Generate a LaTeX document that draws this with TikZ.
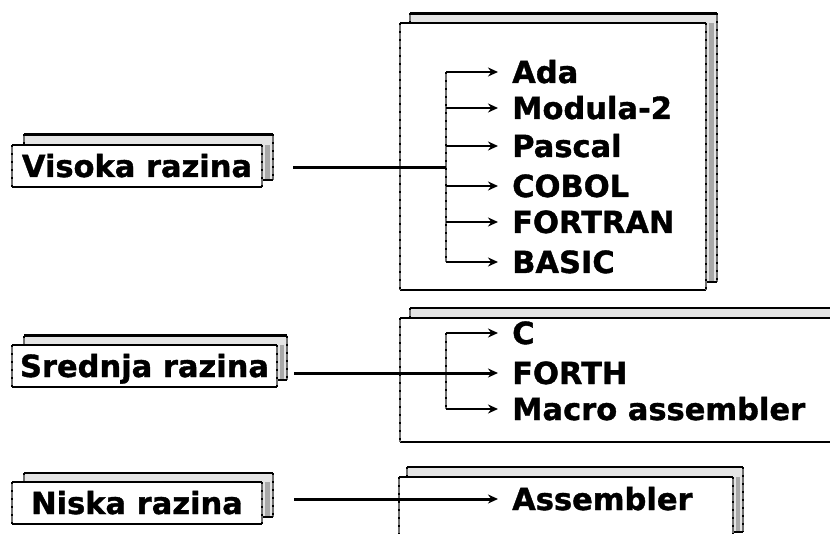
\documentclass[tikz,border=0pt]{standalone}
\usepackage{fontspec}
\setmainfont{DejaVu Sans}[BoldFeatures={FakeBold=1.2}]
\usetikzlibrary{arrows.meta}
\definecolor{bandgray}{HTML}{E4E4E4}
\definecolor{stripgray}{HTML}{A8A8A8}
\definecolor{edgegray}{HTML}{707070}
\tikzset{
  lbl/.style={font=\fontsize{30.5bp}{34bp}\selectfont\bfseries, inner sep=0pt, text height=22bp, text depth=0pt},
  item/.style={lbl, anchor=west},
  conn/.style={line width=3bp},
  tip/.style={-{Stealth[length=10bp,width=9bp]}},
  branch/.style={line width=2bp, shorten >=14bp, tip},
  edgedash/.style={draw=edgegray, line width=2.4bp,
    postaction={draw=black, line width=1.4bp, dash pattern=on 2bp off 6bp}},
  rim/.style={draw=black, line width=2.4bp},
}
% front: #1 left #2 top #3 right #4 bottom ; back: #5 left #6 top #7 right #8 bottom
\newcommand\stackedsheet[8]{%
  \fill[bandgray] (#5,#6) rectangle (#7,#8);
  \fill[stripgray] (#3+3,#2) rectangle (#7-3,#8);
  \draw[edgedash] (#7,#6) -- (#7,#8);
  \draw[rim] (#3,#8) -- (#7,#8);
  \draw[edgedash] (#5,#6) -- (#5,#2);
  \draw[rim] (#5,#6) -- (#7,#6);
  \fill[white] (#1,#2) rectangle (#3,#4);
  \draw[rim] (#1,#2) -- (#3,#2);
  \draw[rim] (#1,#4) -- (#3,#4);
  \draw[edgedash] (#1,#2) -- (#1,#4);
  \draw[edgedash] (#3,#2) -- (#3,#4);
}
\begin{document}
\begin{tikzpicture}[x=1bp,y=-1bp]
\useasboundingbox (0,0) rectangle (830,534);
\clip (0,0) rectangle (830,534);
\fill[white] (0,0) rectangle (830,534);

% sheets
\stackedsheet{400}{23}{706}{290}{410}{13.5}{717}{282}
\stackedsheet{400}{318}{850}{442}{410}{308}{860}{435}
\stackedsheet{399}{477}{733}{560}{407}{467}{743}{532}
\stackedsheet{12}{145}{262}{187}{24}{134.5}{273}{180}
\stackedsheet{12}{345}{277}{387}{24}{335.5}{287}{380}
\stackedsheet{12}{482}{262}{524}{24}{473}{273}{517}

% level labels
\node[lbl] (vis) at (137,166) {Visoka razina};
\node[lbl] (sre) at (144.5,366) {Srednja razina};
\node[lbl] (nis) at (137,503) {Niska razina};

% language items
\node[item] (ada) at (512,72) {Ada};
\node[item] (mod) at (512,108) {Modula-2};
\node[item] (pas) at (512,146) {Pascal};
\node[item] (cob) at (512,186) {COBOL};
\node[item] (for) at (512,222) {FORTRAN};
\node[item] (bas) at (512,262) {BASIC};
\node[item] (c) at (512,333) {C};
\node[item] (forth) at (512,373) {FORTH};
\node[item] (mac) at (512,409) {Macro assembler};
\node[item] (asm) at (512,499) {Assembler};

% connector points
\coordinate (v0) at (293,168);
\coordinate (s0) at (294,373);
\coordinate (n0) at (294,499);
\coordinate (vj) at (446,168);
\coordinate (b1) at (446,72);
\coordinate (b2) at (446,108);
\coordinate (b3) at (446,146);
\coordinate (b4) at (446,186);
\coordinate (b5) at (446,222);
\coordinate (b6) at (446,262);
\coordinate (m1) at (446,333);
\coordinate (m3) at (446,409);

% brackets
\draw[edgedash] (b1) -- (b6);
\draw[edgedash] (m1) -- (m3);

% main connectors
\draw[conn] (v0) -- (vj);
\draw[conn, shorten >=14bp, tip] (s0) -- (forth.west);
\draw[conn, shorten >=14bp, tip] (n0) -- (asm.west);

% branches
\draw[branch] (b1) -- (ada.west);
\draw[branch] (b2) -- (mod.west);
\draw[branch] (b3) -- (pas.west);
\draw[branch] (b4) -- (cob.west);
\draw[branch] (b5) -- (for.west);
\draw[branch] (b6) -- (bas.west);
\draw[branch] (m1) -- (c.west);
\draw[branch] (m3) -- (mac.west);
\end{tikzpicture}
\end{document}
